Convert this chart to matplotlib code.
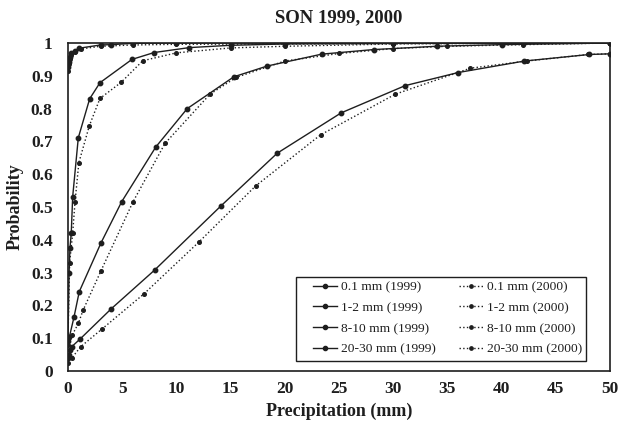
import matplotlib
matplotlib.use("Agg")
import matplotlib.pyplot as plt
from matplotlib.lines import Line2D
from matplotlib.patches import Rectangle

plt.rcParams['font.family'] = ['Liberation Serif', 'DejaVu Serif']

# Cumulative probability of precipitation (SON), by rain class
x_01_1999 = [0.0, 0.05, 0.15, 0.3, 0.6, 1.0, 3.0, 4.0, 6.0, 10.0, 20.0, 30.0, 40.0, 50.0]
y_01_1999 = [0.928, 0.943, 0.958, 0.968, 0.976, 0.984, 0.994, 0.995, 0.999, 1.0, 1.0, 1.0, 1.0, 1.0]
x_01_2000 = [0.0, 0.05, 0.15, 0.3, 0.6, 1.2, 3.0, 6.0, 10.0, 20.0, 30.0, 40.0, 50.0]
y_01_2000 = [0.915, 0.935, 0.952, 0.963, 0.973, 0.982, 0.99, 0.994, 0.996, 0.997, 0.998, 0.999, 1.0]

x_12_1999 = [0.0, 0.1, 0.18, 0.3, 0.43, 0.95, 2.0, 2.95, 5.9, 7.95, 11.2, 15.0, 20.0, 30.0, 40.0, 50.0]
y_12_1999 = [0.10, 0.30, 0.375, 0.42, 0.531, 0.711, 0.83, 0.879, 0.95, 0.971, 0.986, 0.993, 0.997, 0.999, 1.0, 1.0]
x_12_2000 = [0.0, 0.15, 0.43, 0.65, 1.0, 1.97, 2.95, 4.9, 6.9, 10.0, 15.0, 20.0, 30.0, 40.0, 50.0]
y_12_2000 = [0.10, 0.33, 0.42, 0.516, 0.635, 0.748, 0.831, 0.88, 0.946, 0.97, 0.985, 0.99, 0.997, 0.999, 1.0]

x_810_1999 = [0.0, 0.12, 0.55, 1.04, 3.05, 4.95, 8.1, 11.0, 15.3, 18.4, 23.4, 28.2, 34.0, 40.0, 50.0]
y_810_1999 = [0.09, 0.103, 0.164, 0.242, 0.391, 0.516, 0.683, 0.80, 0.897, 0.93, 0.966, 0.98, 0.99, 0.995, 1.0]
x_810_2000 = [0.0, 0.4, 0.95, 1.4, 3.05, 6.0, 8.95, 13.1, 15.5, 20.0, 25.0, 30.0, 35.0, 42.0, 50.0]
y_810_2000 = [0.08, 0.11, 0.145, 0.186, 0.306, 0.516, 0.694, 0.844, 0.895, 0.945, 0.968, 0.983, 0.99, 0.995, 1.0]

x_2030_1999 = [0.0, 0.12, 0.18, 0.34, 1.1, 4.0, 8.0, 14.1, 19.3, 25.2, 31.1, 36.0, 42.1, 48.1, 50.0]
y_2030_1999 = [0.04, 0.049, 0.064, 0.074, 0.097, 0.19, 0.308, 0.503, 0.664, 0.787, 0.87, 0.91, 0.945, 0.965, 0.967]
x_2030_2000 = [0.0, 0.34, 1.17, 3.1, 7.0, 12.1, 17.3, 23.3, 30.2, 37.1, 42.3, 48.0, 50.0]
y_2030_2000 = [0.025, 0.039, 0.074, 0.127, 0.235, 0.394, 0.564, 0.72, 0.844, 0.923, 0.945, 0.965, 0.967]

labels_1999 = ['0.1 mm (1999)', '1-2 mm (1999)', '8-10 mm (1999)', '20-30 mm (1999)']
labels_2000 = ['0.1 mm (2000)', '1-2 mm (2000)', '8-10 mm (2000)', '20-30 mm (2000)']

x_ticks = [0, 5, 10, 15, 20, 25, 30, 35, 40, 45, 50]
y_ticks = [0, 0.1, 0.2, 0.3, 0.4, 0.5, 0.6, 0.7, 0.8, 0.9, 1.0]
y_ticklabels = ['0', '0.1', '0.2', '0.3', '0.4', '0.5', '0.6', '0.7', '0.8', '0.9', '1']

ink = '#1e1e1e'
W, H = 621, 422
ax_l, ax_r, ax_t, ax_b = 68, 610, 43, 371

fig = plt.figure(figsize=(W / 100, H / 100), dpi=100)
ax = fig.add_axes([ax_l / W, 1 - ax_b / H, (ax_r - ax_l) / W, (ax_b - ax_t) / H])


def ax_frac(px, py):
    """Pixel position in the figure -> axes fraction."""
    return (px - ax_l) / (ax_r - ax_l), (ax_b - py) / (ax_b - ax_t)


series_1999 = [(x_01_1999, y_01_1999), (x_12_1999, y_12_1999),
               (x_810_1999, y_810_1999), (x_2030_1999, y_2030_1999)]
series_2000 = [(x_01_2000, y_01_2000), (x_12_2000, y_12_2000),
               (x_810_2000, y_810_2000), (x_2030_2000, y_2030_2000)]

for (xs, ys), lab in zip(series_1999, labels_1999):
    ax.plot(xs, ys, '-', color=ink, lw=1.0, marker='o', ms=3.2, label=lab)
for (xs, ys), lab in zip(series_2000, labels_2000):
    ax.plot(xs, ys, ':', color=ink, lw=1.0, marker='o', ms=2.6, label=lab)

ax.set_xlim(0, 50)
ax.set_ylim(0, 1.0)
ax.set_xticks(x_ticks)
ax.set_yticks(y_ticks)
ax.set_yticklabels(y_ticklabels)
ax.tick_params(length=0, labelsize=12.5, colors=ink)
ax.tick_params(axis='x', pad=7)
ax.tick_params(axis='y', pad=11)
for lbl in ax.get_xticklabels() + ax.get_yticklabels():
    lbl.set_fontweight('bold')
for sp in ax.spines.values():
    sp.set_color(ink)
    sp.set_linewidth(1.2)

ax.set_xlabel('Precipitation (mm)', fontsize=13, fontweight='bold', color=ink, labelpad=4)
ax.set_ylabel('Probability', fontsize=13, fontweight='bold', color=ink, labelpad=5)
ax.set_title('SON 1999, 2000', fontsize=13.5, fontweight='bold', color=ink, pad=15)

# legend entries without frame; frame drawn separately as a box
handles = ([Line2D([], [], ls='-', color=ink, lw=1.0, marker='o', ms=3.0) for _ in labels_1999] +
           [Line2D([], [], ls=':', color=ink, lw=1.0, marker='o', ms=2.4) for _ in labels_2000])
leg = ax.legend(handles, labels_1999 + labels_2000, ncol=2, loc='upper left',
                bbox_to_anchor=ax_frac(313, 281), borderaxespad=0, borderpad=0,
                fontsize=9.7, frameon=False, handlelength=1.8, handletextpad=0.25,
                labelspacing=0.62, columnspacing=1.75)
for t in leg.get_texts():
    t.set_color(ink)

x0, y0 = ax_frac(296, 361)
x1, y1 = ax_frac(586, 277)
ax.add_patch(Rectangle((x0, y0), x1 - x0, y1 - y0, transform=ax.transAxes,
                       fill=True, facecolor='white', edgecolor=ink, lw=1.0, zorder=4))
leg.set_zorder(5)

fig.savefig('out.png', dpi=100)
